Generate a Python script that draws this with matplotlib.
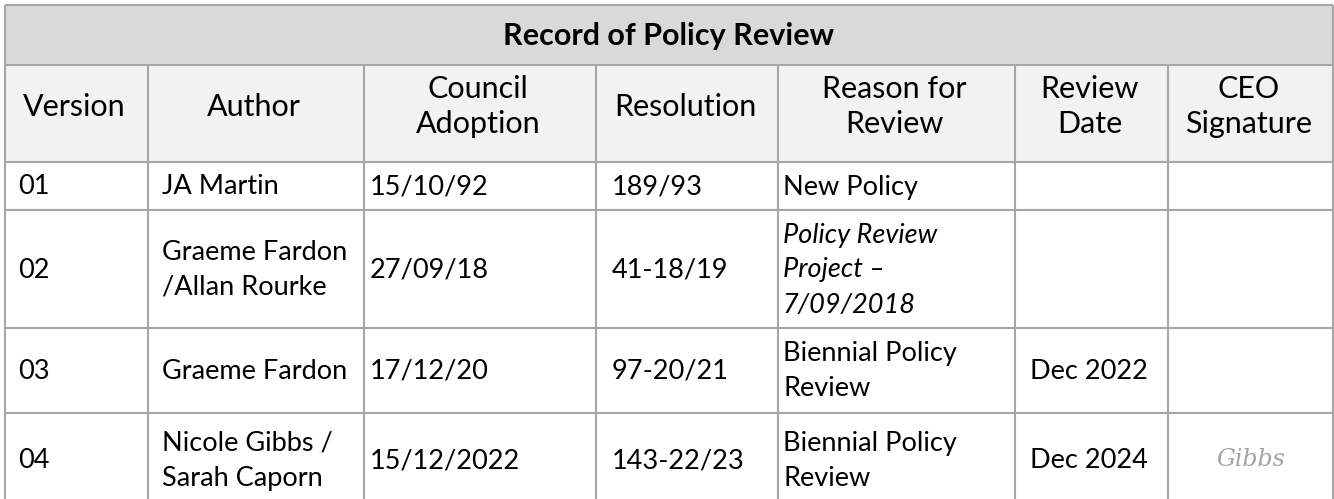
import matplotlib.pyplot as plt

title = "Record of Policy Review"
headers = ["Version", "Author", "Council\nAdoption", "Resolution",
           "Reason for\nReview", "Review\nDate", "CEO\nSignature"]

versions = ["01", "02", "03", "04"]
authors = ["JA Martin", "Graeme Fardon\n/Allan Rourke", "Graeme Fardon",
           "Nicole Gibbs /\nSarah Caporn"]
adoption = ["15/10/92", "27/09/18", "17/12/20", "15/12/2022"]
resolution = ["189/93", "41-18/19", "97-20/21", "143-22/23"]
reasons = ["New Policy", "Policy Review\nProject –\n7/09/2018",
           "Biennial Policy\nReview", "Biennial Policy\nReview"]
review_dates = ["", "", "Dec 2022", "Dec 2024"]
signatures = ["", "", "", "Gibbs"]
italic_reason = [False, True, False, False]

# layout (pixels)
col_x = [5, 148, 364, 596, 778, 1015, 1168, 1333]
text_x = [18, 162, 370, 612, 783, 1030, 1190]
row_y = [5, 65, 162, 210, 328, 413, 507]

W, H = 1334, 499
fig = plt.figure(figsize=(W / 100, H / 100), dpi=100)
ax = fig.add_axes([0, 0, 1, 1])
ax.set_xlim(0, W)
ax.set_ylim(H, 0)
ax.axis("off")

FONT = "Lato"
FS = 19.5
FS_HEAD = 22
LINE_GAP = 35
grid_c = "#a6a6a6"

# backgrounds
ax.fill_between([col_x[0], col_x[-1]], row_y[0], row_y[1], color="#d9d9d9", lw=0)
ax.fill_between([col_x[0], col_x[-1]], row_y[1], row_y[2], color="#f2f2f2", lw=0)


def put(x, yc, txt, ha="left", style="normal", weight="normal", size=FS):
    lines = txt.split("\n")
    n = len(lines)
    for i, ln in enumerate(lines):
        y = yc + (i - (n - 1) / 2) * LINE_GAP
        ax.text(x, y, ln, ha=ha, va="center", fontsize=size, family=FONT,
                style=style, weight=weight, color="#000000")


# title
put((col_x[0] + col_x[-1]) / 2, (row_y[0] + row_y[1]) / 2 + 1, title,
    ha="center", weight="bold", size=FS_HEAD)

# column headers
hy = (row_y[1] + row_y[2]) / 2 - 7
for i, h in enumerate(headers):
    put((col_x[i] + col_x[i + 1]) / 2 - 2, hy, h, ha="center", size=FS_HEAD)

# body
columns = [versions, authors, adoption, resolution, reasons, review_dates]
for r in range(len(versions)):
    yc = (row_y[r + 2] + row_y[r + 3]) / 2 + 1
    for c, col in enumerate(columns):
        style = "italic" if (c == 4 and italic_reason[r]) else "normal"
        put(text_x[c], yc, col[r], style=style)
    if signatures[r]:
        ax.text((col_x[6] + col_x[7]) / 2, yc - 2, signatures[r], ha="center",
                va="center", fontsize=17, family="DejaVu Serif", style="italic",
                color="#8c8c8c", alpha=0.8)

# grid lines
ax.hlines(row_y[:-1], col_x[0], col_x[-1], color=grid_c, lw=1.5)
ax.vlines([col_x[0], col_x[-1]], row_y[0], row_y[-1], color=grid_c, lw=1.5)
ax.vlines(col_x[1:-1], row_y[1], row_y[-1], color=grid_c, lw=1.5)

fig.savefig("out.png", dpi=100)
